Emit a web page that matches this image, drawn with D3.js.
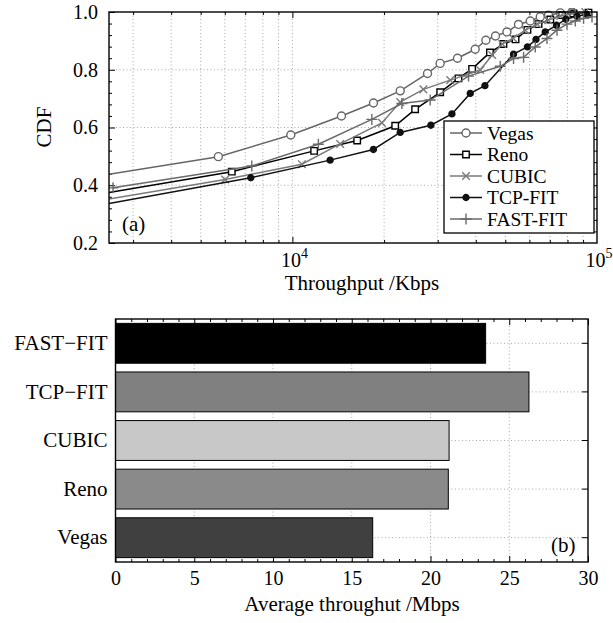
<!DOCTYPE html>
<html>
<head>
<meta charset="utf-8">
<script src="https://cdn.jsdelivr.net/npm/d3@7"></script>
<style>
  body { margin: 0; background: #fff; }
  text { font-family: "Liberation Serif", "Times New Roman", serif; fill: #000; }
</style>
</head>
<body>
<svg id="chart" width="613" height="623"></svg>
<script>
// ---- data : (a) CDF of throughput (Kbps) ----
const cdfNames = ["Vegas", "Reno", "CUBIC", "TCP-FIT", "FAST-FIT"];

const vegasKbps = [2500, 5715, 9880, 14490, 18460, 22600, 27770, 30550, 34830, 39820, 43170, 46420, 50620, 55250, 60380, 65110, 69330, 75760, 82740];
const vegasCdf  = [0.438, 0.499, 0.574, 0.640, 0.685, 0.727, 0.787, 0.822, 0.840, 0.871, 0.902, 0.917, 0.931, 0.957, 0.969, 0.983, 0.989, 0.997, 1.0];

const renoKbps = [2500, 6324, 11785, 16320, 21750, 25290, 30560, 35090, 38900, 44520, 49300, 54030, 59110, 64290, 70260, 76740, 83760, 93760];
const renoCdf  = [0.375, 0.447, 0.519, 0.555, 0.606, 0.663, 0.722, 0.770, 0.803, 0.860, 0.889, 0.905, 0.938, 0.958, 0.974, 0.989, 0.995, 0.998];

const cubicKbps = [2500, 6014, 10740, 14350, 19670, 22590, 26920, 32970, 41360, 45290, 48870, 53030, 58150, 63670, 69190, 75770, 82960, 91550];
const cubicCdf  = [0.352, 0.420, 0.473, 0.543, 0.616, 0.688, 0.732, 0.764, 0.799, 0.851, 0.889, 0.909, 0.937, 0.958, 0.972, 0.986, 0.996, 1.0];

const tcpfitKbps = [2500, 7300, 13300, 18450, 22590, 28490, 33400, 38360, 42860, 53210, 59110, 63050, 67610, 73620, 78970, 85930, 92640];
const tcpfitCdf  = [0.337, 0.426, 0.487, 0.524, 0.583, 0.608, 0.647, 0.718, 0.745, 0.854, 0.879, 0.905, 0.931, 0.954, 0.975, 0.985, 0.992];

const fastfitKbps = [2577, 7357, 12170, 18230, 22880, 28340, 37870, 48120, 53210, 57410, 62710, 68500, 73900, 79690, 84860, 90360, 96300];
const fastfitCdf  = [0.391, 0.467, 0.542, 0.628, 0.683, 0.695, 0.778, 0.812, 0.839, 0.843, 0.879, 0.908, 0.937, 0.958, 0.969, 0.978, 0.983];

const cdfColors  = ["#666666", "#000000", "#7a7a7a", "#111111", "#6a6a6a"];
const cdfMarkers = ["circle", "square", "x", "dot", "plus"];

// ---- data : (b) average throughput (Mbps) ----
const barNames  = ["FAST\u2212FIT", "TCP\u2212FIT", "CUBIC", "Reno", "Vegas"];
const barValues = [23.5, 26.25, 21.18, 21.13, 16.33];
const barColors = ["#000000", "#808080", "#c8c8c8", "#8a8a8a", "#404040"];

const svg = d3.select("#chart");
const gridStyle = g => g.attr("stroke", "#a8a8a8").attr("stroke-width", 1).attr("stroke-dasharray", "1,2.5");

function markerPath(type) {
  if (type === "circle") return d3.symbol(d3.symbolCircle, 50)();
  if (type === "square") return d3.symbol(d3.symbolSquare, 42)();
  if (type === "dot") return d3.symbol(d3.symbolCircle, 28)();
  if (type === "x") return "M-3.8,-3.8L3.8,3.8M-3.8,3.8L3.8,-3.8";
  return "M-5.5,0H5.5M0,-5.5V5.5";
}
function markerFill(s) {
  if (s.marker === "dot") return s.color;
  return (s.marker === "circle" || s.marker === "square") ? "#fff" : "none";
}
function noDomain(g) { g.select(".domain").remove(); }

// ================= (a) CDF plot =================
const xTop = d3.scaleLog().domain([2500, 1e5]).range([109, 597]);
const yTop = d3.scaleLinear().domain([0.2, 1]).range([243, 12]);

const plotA = svg.append("g");

// grid
const logTicks = xTop.ticks().filter(d => d > 2500 && d < 1e5);
plotA.append("g").call(gridStyle).selectAll("line")
  .data(logTicks).join("line")
  .attr("x1", d => xTop(d)).attr("x2", d => xTop(d))
  .attr("y1", yTop(1)).attr("y2", yTop(0.2));
plotA.append("g").call(gridStyle).selectAll("line")
  .data([0.4, 0.6, 0.8]).join("line")
  .attr("x1", xTop(2500)).attr("x2", xTop(1e5))
  .attr("y1", d => yTop(d)).attr("y2", d => yTop(d));

// ticks (inward)
const minorLog = logTicks.filter(d => d !== 1e4);
const yMinor = d3.range(0.24, 1.0, 0.04).filter(d => Math.abs(Math.round(d * 10) - d * 10) > 0.01 || Math.round(d * 10) % 2 === 1);
plotA.append("g").attr("transform", `translate(0,${yTop(0.2)})`)
  .call(d3.axisBottom(xTop).tickValues(minorLog).tickSize(-3).tickFormat("")).call(noDomain);
plotA.append("g").attr("transform", `translate(0,${yTop(0.2)})`)
  .call(d3.axisBottom(xTop).tickValues([1e4]).tickSize(-6).tickFormat("")).call(noDomain);
plotA.append("g").attr("transform", `translate(0,${yTop(1)})`)
  .call(d3.axisTop(xTop).tickValues(minorLog).tickSize(-3).tickFormat("")).call(noDomain);
plotA.append("g").attr("transform", `translate(0,${yTop(1)})`)
  .call(d3.axisTop(xTop).tickValues([1e4]).tickSize(-6).tickFormat("")).call(noDomain);

const yAxisTop = plotA.append("g").attr("transform", `translate(${xTop(2500)},0)`)
  .call(d3.axisLeft(yTop).tickValues([0.2, 0.4, 0.6, 0.8, 1.0]).tickSize(-6).tickPadding(11).tickFormat(d3.format(".1f")))
  .call(noDomain);
yAxisTop.selectAll("text").attr("font-size", 20).attr("font-family", "Liberation Serif");
plotA.append("g").attr("transform", `translate(${xTop(2500)},0)`)
  .call(d3.axisLeft(yTop).tickValues(yMinor).tickSize(-3).tickFormat("")).call(noDomain);
plotA.append("g").attr("transform", `translate(${xTop(1e5)},0)`)
  .call(d3.axisRight(yTop).tickValues([0.4, 0.6, 0.8]).tickSize(-6).tickFormat("")).call(noDomain);
plotA.append("g").attr("transform", `translate(${xTop(1e5)},0)`)
  .call(d3.axisRight(yTop).tickValues(yMinor).tickSize(-3).tickFormat("")).call(noDomain);
plotA.selectAll(".tick line").attr("stroke", "#000");

// x tick labels 10^4, 10^5
[1e4, 1e5].forEach(v => {
  const t = plotA.append("text").attr("x", xTop(v) + 2).attr("y", 267)
    .attr("text-anchor", "middle").attr("font-size", 20);
  t.append("tspan").text("10");
  t.append("tspan").attr("dy", -9).attr("font-size", 14).text(Math.round(Math.log10(v)));
});

plotA.append("text").attr("x", 362).attr("y", 290).attr("text-anchor", "middle")
  .attr("font-size", 21).text("Throughput /Kbps");
plotA.append("text").attr("transform", "translate(51,127) rotate(-90)")
  .attr("text-anchor", "middle").attr("font-size", 21).text("CDF");

// series
plotA.append("clipPath").attr("id", "clipA").append("rect")
  .attr("x", 109).attr("y", 8).attr("width", 488).attr("height", 235);

const cdfData = [
  [vegasKbps, vegasCdf], [renoKbps, renoCdf], [cubicKbps, cubicCdf],
  [tcpfitKbps, tcpfitCdf], [fastfitKbps, fastfitCdf]
].map(([xs, ys], i) => ({
  name: cdfNames[i], color: cdfColors[i], marker: cdfMarkers[i],
  values: xs.map((x, j) => ({ x, y: ys[j] }))
}));

const line = d3.line().x(d => xTop(d.x)).y(d => yTop(d.y));
const seriesG = plotA.append("g").attr("clip-path", "url(#clipA)");
cdfData.forEach(s => {
  seriesG.append("path").attr("d", line(s.values))
    .attr("fill", "none").attr("stroke", s.color).attr("stroke-width", 1.5);
  seriesG.selectAll(null).data(s.values.filter(d => d.x > 2500)).join("path")
    .attr("transform", d => `translate(${xTop(d.x)},${yTop(d.y)})`)
    .attr("d", markerPath(s.marker))
    .attr("fill", markerFill(s))
    .attr("stroke", s.color).attr("stroke-width", 1.4);
});

// box
plotA.append("rect").attr("x", 109).attr("y", 12).attr("width", 488).attr("height", 231)
  .attr("fill", "none").attr("stroke", "#000").attr("stroke-width", 1.4);

plotA.append("text").attr("x", 122).attr("y", 231).attr("font-size", 21).text("(a)");

// legend
const leg = plotA.append("g");
leg.append("rect").attr("x", 444).attr("y", 121).attr("width", 150).attr("height", 112)
  .attr("fill", "#fff").attr("stroke", "#000").attr("stroke-width", 1.3);
cdfData.forEach((s, i) => {
  const ly = 133 + i * 21.5;
  leg.append("line").attr("x1", 450).attr("x2", 482).attr("y1", ly).attr("y2", ly)
    .attr("stroke", s.color).attr("stroke-width", 1.5);
  leg.append("path").attr("transform", `translate(466,${ly})`).attr("d", markerPath(s.marker))
    .attr("fill", markerFill(s))
    .attr("stroke", s.color).attr("stroke-width", 1.4);
  leg.append("text").attr("x", 487).attr("y", ly + 6.5).attr("font-size", 19.5).text(s.name);
});

// ================= (b) bar chart =================
const xBar = d3.scaleLinear().domain([0, 30]).range([115.5, 588]);
const yBar = d3.scaleBand().domain(barNames).range([319, 562]).paddingInner(0.18).paddingOuter(0.09);
const plotB = svg.append("g");

plotB.append("g").call(gridStyle).selectAll("line")
  .data([5, 10, 15, 20, 25]).join("line")
  .attr("x1", d => xBar(d)).attr("x2", d => xBar(d)).attr("y1", 319).attr("y2", 562);
plotB.append("g").call(gridStyle).selectAll("line")
  .data(barNames).join("line")
  .attr("x1", xBar(0)).attr("x2", xBar(30))
  .attr("y1", d => yBar(d) + yBar.bandwidth() / 2).attr("y2", d => yBar(d) + yBar.bandwidth() / 2);

const minorBar = d3.range(1, 30).filter(d => d % 5 !== 0);
const xAxisBar = plotB.append("g").attr("transform", "translate(0,562)")
  .call(d3.axisBottom(xBar).tickValues(d3.range(0, 31, 5)).tickSize(-6).tickPadding(9))
  .call(noDomain);
xAxisBar.selectAll("text").attr("font-size", 20).attr("font-family", "Liberation Serif");
plotB.append("g").attr("transform", "translate(0,562)")
  .call(d3.axisBottom(xBar).tickValues(minorBar).tickSize(-3).tickFormat("")).call(noDomain);
plotB.append("g").attr("transform", "translate(0,319)")
  .call(d3.axisTop(xBar).tickValues(d3.range(0, 31, 5)).tickSize(-6).tickFormat("")).call(noDomain);
plotB.append("g").attr("transform", "translate(0,319)")
  .call(d3.axisTop(xBar).tickValues(minorBar).tickSize(-3).tickFormat("")).call(noDomain);
plotB.append("g").attr("transform", `translate(${xBar(30)},0)`)
  .call(d3.axisRight(yBar).tickSize(-6).tickFormat("")).call(noDomain);
const yAxisBar = plotB.append("g").attr("transform", `translate(${xBar(0)},0)`)
  .call(d3.axisLeft(yBar).tickSize(0).tickPadding(8)).call(noDomain);
yAxisBar.selectAll("text").attr("font-size", 21).attr("font-family", "Liberation Serif");
plotB.selectAll(".tick line").attr("stroke", "#000");

plotB.selectAll("rect.bar").data(barNames).join("rect").attr("class", "bar")
  .attr("x", xBar(0)).attr("y", d => yBar(d))
  .attr("width", (d, i) => xBar(barValues[i]) - xBar(0))
  .attr("height", yBar.bandwidth())
  .attr("fill", (d, i) => barColors[i]).attr("stroke", "#000").attr("stroke-width", 1);

plotB.append("rect").attr("x", xBar(0)).attr("y", 319).attr("width", xBar(30) - xBar(0)).attr("height", 243)
  .attr("fill", "none").attr("stroke", "#000").attr("stroke-width", 1.4);

plotB.append("text").attr("x", 551).attr("y", 552).attr("font-size", 21).text("(b)");
plotB.append("text").attr("x", 352).attr("y", 611).attr("text-anchor", "middle")
  .attr("font-size", 21).text("Average throughut /Mbps");
</script>
</body>
</html>
